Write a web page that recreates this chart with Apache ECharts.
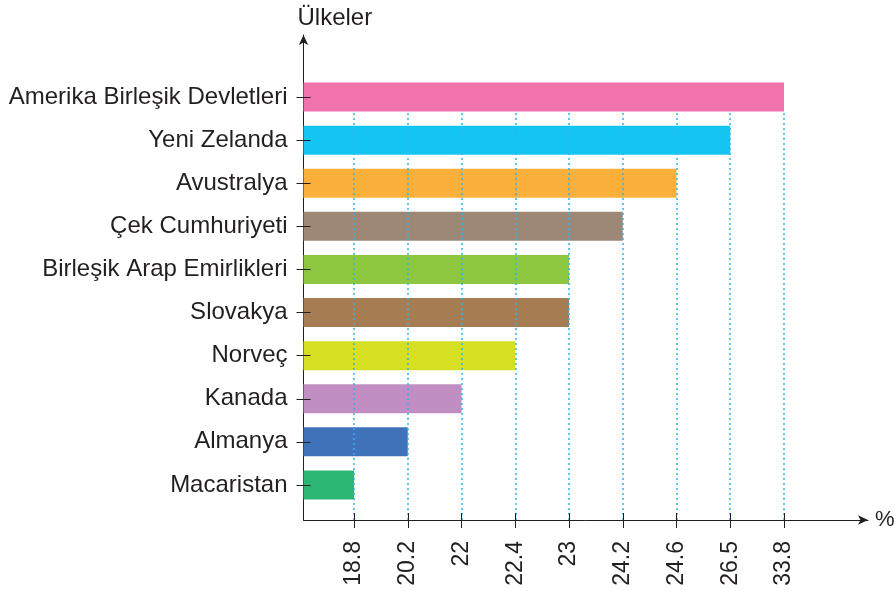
<!DOCTYPE html>
<html>
<head>
<meta charset="utf-8">
<script src="https://cdn.jsdelivr.net/npm/echarts@6/dist/echarts.min.js"></script>
<style>html,body{margin:0;padding:0;background:#fff}#c{width:894px;height:591px}</style>
</head>
<body>
<div id="c"></div>
<script>
const categories = ['Amerika Birleşik Devletleri','Yeni Zelanda','Avustralya','Çek Cumhuriyeti','Birleşik Arap Emirlikleri','Slovakya','Norveç','Kanada','Almanya','Macaristan'];
const values = [33.8, 26.5, 24.6, 24.2, 23, 23, 22.4, 22, 20.2, 18.8];
const tickLabels = ['18.8','20.2','22','22.4','23','24.2','24.6','26.5','33.8'];
const colors = ['#F173AB','#14C4F1','#FBB03C','#9D8878','#8DC63F','#A67C52','#D7DF23','#C08EC2','#3F72B9','#2BB673'];

const tickPos = tickLabels.map((t, i) => i + 1);
const barData = values.map((v, i) => ({
  value: tickLabels.indexOf(String(v)) + 1,
  itemStyle: { color: colors[i] }
}));

const FONT = "'Liberation Sans', Arial, sans-serif";
const TXT = '#231F20';
const XMIN = 0.06, XMAX = 10.563;
const L = 303.5, R = 26;

const chart = echarts.init(document.getElementById('c'), null, { renderer: 'canvas' });
chart.setOption({
  animation: false,
  grid: [
    { left: L, right: R, top: 75.5, bottom: 84.5, outerBoundsMode: 'none', containLabel: false },
    { left: L, right: R, top: 112, bottom: 71, outerBoundsMode: 'none', containLabel: false },
    { left: L, right: R, top: 35, bottom: 71, outerBoundsMode: 'none', containLabel: false }
  ],
  xAxis: [
    { gridIndex: 0, type: 'value', min: XMIN, max: XMAX, show: false },
    {
      gridIndex: 1, type: 'value', min: XMIN, max: XMAX, position: 'bottom', offset: -7, z: 10,
      axisLine: { show: false },
      axisTick: { show: true, customValues: tickPos, length: 15, lineStyle: { color: TXT, width: 1 } },
      axisLabel: {
        show: true, customValues: tickPos, rotate: 90, margin: 28,
        fontFamily: FONT, fontSize: 23, color: TXT,
        formatter: v => tickLabels[Math.round(v) - 1] || ''
      },
      splitLine: { show: false }
    },
    {
      gridIndex: 2, type: 'value', min: XMIN, max: XMAX, position: 'bottom',
      axisLine: { show: true, lineStyle: { color: TXT, width: 1 }, symbol: ['none', 'arrow'], symbolSize: [7, 10] },
      axisTick: { show: false }, axisLabel: { show: false }, splitLine: { show: false },
      name: '%', nameLocation: 'end', nameGap: 7,
      nameTextStyle: { fontFamily: FONT, fontSize: 22, color: TXT }
    }
  ],
  yAxis: [
    {
      gridIndex: 0, type: 'category', data: categories, inverse: true, offset: -7, z: 10,
      axisLine: { show: false },
      axisTick: { show: true, alignWithLabel: true, length: 14, lineStyle: { color: TXT, width: 1 } },
      axisLabel: { fontFamily: FONT, fontSize: 24, color: TXT, margin: 23 }
    },
    { gridIndex: 1, type: 'value', min: 0, max: 1, show: false },
    {
      gridIndex: 2, type: 'value', min: 0, max: 1,
      axisLine: { show: true, lineStyle: { color: TXT, width: 1 }, symbol: ['none', 'arrow'], symbolSize: [7, 10] },
      axisTick: { show: false }, axisLabel: { show: false }, splitLine: { show: false },
      name: 'Ülkeler', nameLocation: 'end', nameGap: 5,
      nameTextStyle: { fontFamily: FONT, fontSize: 24, color: TXT, align: 'left', padding: [0, 0, 0, -6] }
    }
  ],
  series: [
    {
      type: 'line', xAxisIndex: 1, yAxisIndex: 1, data: [], silent: true,
      markLine: {
        silent: true, symbol: ['none', 'none'], label: { show: false },
        lineStyle: { color: '#2BB5EE', type: [2, 3], width: 1.5 },
        data: tickPos.map(p => ({ xAxis: p }))
      }
    },
    {
      type: 'bar', xAxisIndex: 0, yAxisIndex: 0, data: barData, barWidth: 29
    }
  ]
});
</script>
</body>
</html>
